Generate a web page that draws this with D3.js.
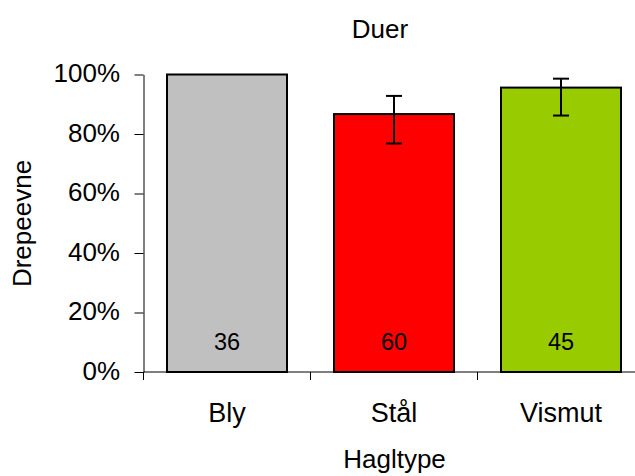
<!DOCTYPE html>
<html>
<head>
<meta charset="utf-8">
<script src="https://cdn.jsdelivr.net/npm/d3@7"></script>
<style>
  html, body { margin: 0; padding: 0; background: #fff; }
  svg { display: block; font-family: "Liberation Sans", Arial, sans-serif; }
</style>
</head>
<body>
<svg id="chart" width="635" height="476"></svg>
<script>
// ---- data ----
const categories = ["Bly", "Stål", "Vismut"];
const values = [1.0, 0.867, 0.956];
const errLow = [1.0, 0.768, 0.862];
const errHigh = [1.0, 0.928, 0.986];
const counts = ["36", "60", "45"];
const barColors = ["#C0C0C0", "#FF0000", "#99CC00"];
const yTicks = [0, 0.2, 0.4, 0.6, 0.8, 1.0];
const title = "Duer";
const xTitle = "Hagltype";
const yTitle = "Drepeevne";

// ---- layout ----
const plotLeft = 143.5, plotTop = 74.5, plotBottom = 372;
const step = 167;
const svg = d3.select("#chart");

const x = d3.scaleBand().domain(categories).range([plotLeft, plotLeft + step * categories.length]).paddingInner(0).paddingOuter(0);
const y = d3.scaleLinear().domain([0, 1]).range([plotBottom, plotTop]);
const barW = 120;

// bars
svg.append("g").selectAll("rect").data(categories).join("rect")
  .attr("x", d => x(d) + (x.bandwidth() - barW) / 2)
  .attr("y", (d, i) => y(values[i]))
  .attr("width", barW)
  .attr("height", (d, i) => y(0) - y(values[i]))
  .attr("fill", (d, i) => barColors[i])
  .attr("stroke", "#000").attr("stroke-width", 2);

// error bars
const eg = svg.append("g").attr("stroke", "#000").attr("stroke-width", 2);
categories.forEach((c, i) => {
  if (errHigh[i] === errLow[i]) return;
  const cx = x(c) + x.bandwidth() / 2;
  eg.append("line").attr("x1", cx).attr("x2", cx).attr("y1", y(errLow[i])).attr("y2", y(errHigh[i]));
  eg.append("line").attr("x1", cx - 8).attr("x2", cx + 8).attr("y1", y(errLow[i])).attr("y2", y(errLow[i]));
  eg.append("line").attr("x1", cx - 8).attr("x2", cx + 8).attr("y1", y(errHigh[i])).attr("y2", y(errHigh[i]));
});

// y axis
const yAxis = svg.append("g").attr("transform", `translate(${plotLeft},0)`)
  .call(d3.axisLeft(y).tickValues(yTicks).tickFormat(d3.format(".0%")).tickSize(9).tickSizeOuter(0));
yAxis.select(".domain").attr("stroke", "#000");
yAxis.selectAll(".tick line").attr("stroke", "#000");
yAxis.selectAll(".tick text")
  .attr("font-size", 26).attr("fill", "#000")
  .attr("font-family", "Liberation Sans, Arial, sans-serif")
  .attr("dy", "0.28em")
  .attr("x", -23.5);

// x axis line
svg.append("line").attr("x1", plotLeft).attr("x2", 635).attr("y1", plotBottom).attr("y2", plotBottom)
  .attr("stroke", "#000").attr("stroke-width", 1);
// x category boundary ticks
svg.append("g").selectAll("line").data(categories).join("line")
  .attr("x1", d => x(d)).attr("x2", d => x(d))
  .attr("y1", plotBottom).attr("y2", plotBottom + 8)
  .attr("stroke", "#000");

// count labels inside bars
svg.append("g").selectAll("text").data(categories).join("text")
  .attr("x", d => x(d) + x.bandwidth() / 2).attr("y", 350)
  .attr("text-anchor", "middle").attr("font-size", 23.5).attr("fill", "#000")
  .text((d, i) => counts[i]);

// category labels
svg.append("g").selectAll("text").data(categories).join("text")
  .attr("x", d => x(d) + x.bandwidth() / 2).attr("y", 422)
  .attr("text-anchor", "middle").attr("font-size", 27).attr("fill", "#000")
  .text(d => d);

// title
svg.append("text").attr("x", 380).attr("y", 38)
  .attr("text-anchor", "middle").attr("font-size", 26).attr("fill", "#000")
  .text(title);

// x title
svg.append("text").attr("x", 394.5).attr("y", 468)
  .attr("text-anchor", "middle").attr("font-size", 26).attr("fill", "#000")
  .text(xTitle);

// y title
svg.append("text")
  .attr("transform", "translate(30.5,223.5) rotate(-90)")
  .attr("text-anchor", "middle").attr("font-size", 26).attr("fill", "#000")
  .text(yTitle);
</script>
</body>
</html>
